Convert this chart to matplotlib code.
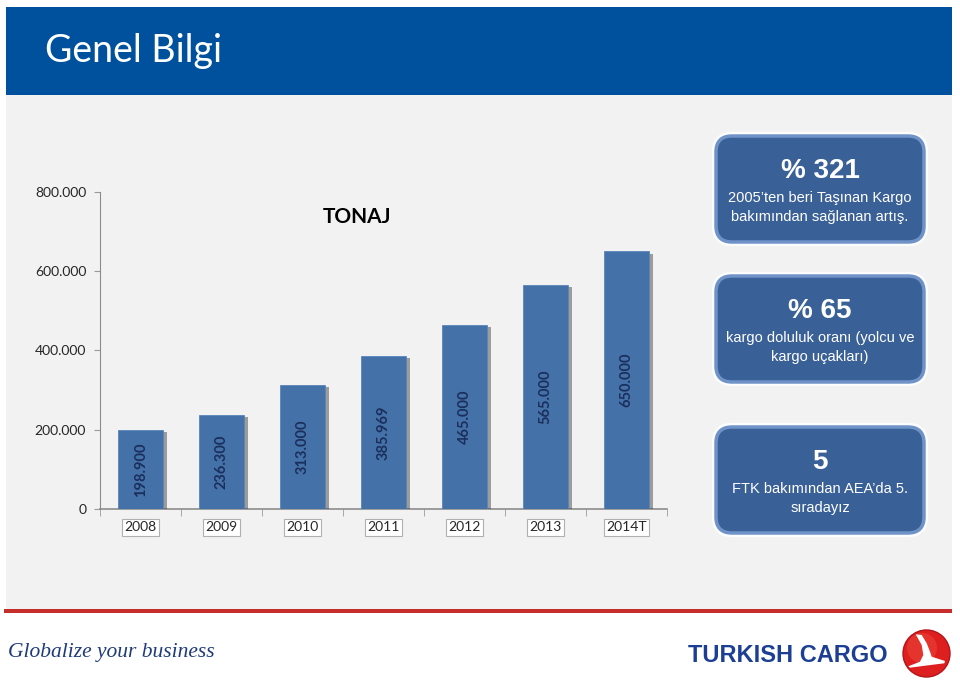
import matplotlib
matplotlib.use('Agg')
import matplotlib.pyplot as plt
from matplotlib import font_manager
from matplotlib.patches import Rectangle, FancyBboxPatch, Circle, Polygon
import matplotlib.patheffects as pe

# data
years = ['2008', '2009', '2010', '2011', '2012', '2013', '2014T']
tonnage = [198900, 236300, 313000, 385969, 465000, 565000, 650000]
y_ticks = [0, 200000, 400000, 600000, 800000]

box_big = ['% 321', '% 65', '5']
box_small = [['2005\u2019ten beri Taşınan Kargo', 'bakımından sağlanan artış.'],
             ['kargo doluluk oranı (yolcu ve', 'kargo uçakları)'],
             ['FTK bakımından AEA\u2019da 5.', 'sıradayız']]


def dotted(v):
    return '{:,}'.format(v).replace(',', '.')


names = set(f.name for f in font_manager.fontManager.ttflist)
narrow = 'Liberation Sans Narrow' if 'Liberation Sans Narrow' in names else 'Liberation Sans'
main_font = 'Lato' if 'Lato' in names else 'DejaVu Sans'

plt.rcParams['font.family'] = [main_font, 'DejaVu Sans']

fig = plt.figure(figsize=(9.6, 6.83), dpi=100)
fig.patch.set_facecolor('white')

# background drawn in pixel coordinates
bg = fig.add_axes([0, 0, 1, 1])
bg.set_xlim(0, 960)
bg.set_ylim(683, 0)
bg.axis('off')

bg.add_patch(Rectangle((6, 7), 946, 88, fc='#00519D', ec='none'))
bg.add_patch(Rectangle((6, 95), 946, 515, fc='#F2F2F2', ec='none'))
bg.add_patch(Rectangle((4, 609), 948, 4, fc='#C62E2B', ec='none'))
bg.text(45, 62, 'Genel Bilgi', color='white', fontsize=27, va='baseline')

# right side info boxes
box_tops = [133, 273, 424]
for top, big, small in zip(box_tops, box_big, box_small):
    bg.add_patch(FancyBboxPatch((716, top + 3), 208, 106,
                                boxstyle='round,pad=0,rounding_size=16',
                                fc='#3A6197', ec='#6F93C8', lw=2.5,
                                path_effects=[pe.withStroke(linewidth=6, foreground='white', alpha=0.8)]))
    bg.text(820, top + 38, big, color='white', fontsize=20, fontweight='bold',
            family=[narrow, 'DejaVu Sans'], ha='center', va='center')
    bg.text(820, top + 65, small[0], color='white', fontsize=10.5,
            family=[narrow, 'DejaVu Sans'], ha='center', va='center')
    bg.text(820, top + 84, small[1], color='white', fontsize=10.5,
            family=[narrow, 'DejaVu Sans'], ha='center', va='center')

# footer
bg.text(8, 652, 'Globalize your business', color='#1F3B7A', fontsize=15.5,
        style='italic', family=['Liberation Serif', 'DejaVu Serif'], va='center')
bg.text(688, 655, 'TURKISH CARGO', color='#1C3F94', fontsize=17,
        fontweight='bold', family=['Liberation Sans', 'DejaVu Sans'], va='center')
bg.add_patch(Circle((926.5, 653.5), 23.5, fc='#DE1F1F', ec='#B5141A', lw=1))
bg.add_patch(Circle((922, 648), 15, fc='#EC4A3E', ec='none', alpha=0.5))
bg.add_patch(Polygon([(915.7, 634.3), (921.7, 635), (926.7, 643.3), (930, 651.7),
                      (931.7, 656.7), (945, 661), (944.3, 663.3), (925, 665.7),
                      (910, 667.7), (908.3, 666.3), (920, 661.7), (923.3, 655),
                      (921.7, 645)], closed=True, fc='white', ec='none'))

# bar chart
ax = fig.add_axes([0.1042, 0.2548, 0.5906, 0.4641])
ax.patch.set_alpha(0)
x = list(range(len(years)))
bars = ax.bar(x, tonnage, width=0.56, color='#4571A9', edgecolor='#5A84BB', linewidth=0.6, zorder=3)
for b in bars:
    b.set_path_effects([pe.SimplePatchShadow(offset=(2.5, -1.5), shadow_rgbFace='#333333', alpha=0.45),
                        pe.Normal()])
for i, v in enumerate(tonnage):
    ax.text(i, v / 2, dotted(v), rotation=90, ha='center', va='center',
            color='#1B2F5C', fontsize=10.5, fontweight='bold', zorder=4)

ax.set_xlim(-0.5, len(years) - 0.5)
ax.set_ylim(0, 800000)
ax.set_yticks(y_ticks)
ax.set_yticklabels([dotted(v) for v in y_ticks], fontsize=10, color='#262626')
ax.set_xticks(x)
ax.set_xticklabels(years, fontsize=10, color='#262626')
ax.set_xticks([i - 0.5 for i in range(len(years) + 1)], minor=True)
ax.tick_params(axis='x', which='major', length=0, pad=9)
ax.tick_params(axis='x', which='minor', length=5, color='#9A9A9A', direction='out')
ax.tick_params(axis='y', length=4, color='#9A9A9A', direction='out', pad=6)
for lbl in ax.get_xticklabels():
    lbl.set_bbox(dict(boxstyle='square,pad=0.15', fc='white', ec='#B0B0B0', lw=0.8))
for s in ['top', 'right']:
    ax.spines[s].set_visible(False)
ax.spines['left'].set_color('#8C8C8C')
ax.spines['bottom'].set_color('#8C8C8C')
ax.spines['bottom'].set_linewidth(1.2)

ax.text(2.67, 737000, 'TONAJ', ha='center', va='center',
        fontsize=15, fontweight='bold', color='black')

fig.savefig('out.png', dpi=100)
